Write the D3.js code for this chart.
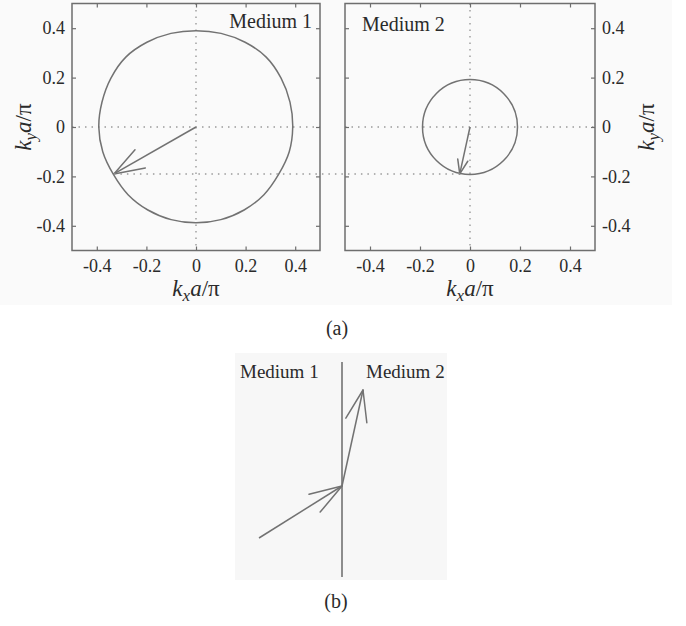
<!DOCTYPE html>
<html>
<head>
<meta charset="utf-8">
<script src="https://cdn.jsdelivr.net/npm/d3@7"></script>
<style>
  body { margin: 0; background: #fff; }
  text { font-family: "Liberation Serif", "Times New Roman", serif; fill: #2a2a2a; }
</style>
</head>
<body>
<div id="chart"></div>
<script>
// ---------- data ----------
const tickValues = [-0.4, -0.2, 0, 0.2, 0.4];
const kDomain = [-0.5, 0.5];

// equifrequency contour of medium 1 (kx a/pi, ky a/pi)
const efcMedium1 = [
  [0.39, 0], [0.379, 0.101], [0.343, 0.198], [0.283, 0.283], [0.198, 0.343], [0.101, 0.379],
  [0, 0.39], [-0.101, 0.379], [-0.198, 0.343], [-0.283, 0.283], [-0.343, 0.198], [-0.379, 0.101],
  [-0.392, 0], [-0.376, -0.1], [-0.333, -0.192], [-0.274, -0.274], [-0.194, -0.336],
  [-0.1, -0.375], [0, -0.388], [0.1, -0.375], [0.194, -0.336], [0.274, -0.274],
  [0.333, -0.192], [0.376, -0.1]
];
// medium 2 contour is a circle
const efcMedium2Radius = 0.19;

// wave vectors drawn in (a)
const kVector1 = [[0, 0], [-0.331, -0.19]];
const kVector2 = [[0, 0], [-0.041, -0.19]];
const kyConserved = -0.19;

// ray diagram (b), arbitrary units, interface at x = 0
const interfaceLine = [[0, -0.91], [0, 1.24]];
const incidentRay = [[-0.83, -0.52], [0, 0]];
const refractedRay = [[0, 0], [0.21, 0.96]];

const panelLabels = ["Medium 1", "Medium 2"];

// ---------- layout ----------
const width = 686, height = 626;
const svg = d3.select("#chart").append("svg")
  .attr("width", width).attr("height", height);

const frameColor = "#6e6e6e";
const lineColor = "#727272";
const dotColor = "#9a9a9a";

// light page background of the scanned figure
svg.append("rect").attr("x", 0).attr("y", 0).attr("width", 672).attr("height", 305).attr("fill", "#fafafa");
svg.append("rect").attr("x", 235).attr("y", 353).attr("width", 212).attr("height", 227).attr("fill", "#f7f7f7");

const yScale = d3.scaleLinear().domain(kDomain).range([250.5, 3.5]);
const xScale1 = d3.scaleLinear().domain(kDomain).range([72, 320]);
const xScale2 = d3.scaleLinear().domain(kDomain).range([345, 595]);

function drawArrow(g, x1, y1, x2, y2, headLen, headAngle, color) {
  g.append("line").attr("x1", x1).attr("y1", y1).attr("x2", x2).attr("y2", y2)
    .attr("stroke", color).attr("stroke-width", 1.5);
  const back = Math.atan2(y1 - y2, x1 - x2);
  [-1, 1].forEach(s => {
    const a = back + s * headAngle * Math.PI / 180;
    g.append("line")
      .attr("x1", x2).attr("y1", y2)
      .attr("x2", x2 + headLen * Math.cos(a)).attr("y2", y2 + headLen * Math.sin(a))
      .attr("stroke", color).attr("stroke-width", 1.5).attr("stroke-linecap", "round");
  });
}

function kTitle(sel, sub) {
  sel.attr("font-size", 23).attr("font-style", "italic");
  sel.append("tspan").text("k");
  sel.append("tspan").attr("font-size", 17).attr("dy", 5).text(sub);
  sel.append("tspan").attr("dy", -5).text("a");
  sel.append("tspan").attr("font-style", "normal").text("/π");
}

function drawPanel(xScale, side, label) {
  const g = svg.append("g");
  const [x0, x1] = xScale.range();
  const [y1, y0] = yScale.range();

  // dotted zero lines
  g.append("line").attr("x1", x0).attr("x2", x1).attr("y1", yScale(0)).attr("y2", yScale(0))
    .attr("stroke", dotColor).attr("stroke-width", 1.4).attr("stroke-dasharray", "1.5,5");
  g.append("line").attr("x1", xScale(0)).attr("x2", xScale(0)).attr("y1", y0).attr("y2", y1)
    .attr("stroke", dotColor).attr("stroke-width", 1.4).attr("stroke-dasharray", "1.5,5");

  // inward ticks on all four sides
  const tl = 4;
  const fmt = d => d === 0 ? "0" : d3.format(".1f")(d).replace("−", "-");
  const bottomAxis = d3.axisBottom(xScale).tickValues(tickValues).tickSize(-tl).tickFormat(fmt);
  const topAxis = d3.axisTop(xScale).tickValues(tickValues).tickSize(-tl).tickFormat("");
  const leftAxis = d3.axisLeft(yScale).tickValues(tickValues).tickSize(-tl).tickFormat(side === "left" ? fmt : "");
  const rightAxis = d3.axisRight(yScale).tickValues(tickValues).tickSize(-tl).tickFormat(side === "right" ? fmt : "");

  const axes = [
    g.append("g").attr("transform", `translate(0,${y1})`).call(bottomAxis),
    g.append("g").attr("transform", `translate(0,${y0})`).call(topAxis),
    g.append("g").attr("transform", `translate(${x0},0)`).call(leftAxis),
    g.append("g").attr("transform", `translate(${x1},0)`).call(rightAxis)
  ];
  axes.forEach(a => {
    a.attr("font-family", null);
    a.select(".domain").remove();
    a.selectAll(".tick line").attr("stroke", frameColor).attr("stroke-width", 1.2);
    a.selectAll(".tick text").attr("font-size", 18).attr("fill", "#2a2a2a");
  });
  axes[0].selectAll(".tick text").attr("y", 9).attr("dy", "0.71em");
  axes[2].selectAll(".tick text").attr("x", -7);
  axes[3].selectAll(".tick text").attr("x", 7);

  // frame
  g.append("rect").attr("x", x0).attr("y", y0).attr("width", x1 - x0).attr("height", y1 - y0)
    .attr("fill", "none").attr("stroke", frameColor).attr("stroke-width", 1.5);

  // axis titles
  g.append("text").attr("x", xScale(0)).attr("y", 296).attr("text-anchor", "middle").call(kTitle, "x");
  const tx = side === "left" ? 31 : 654;
  g.append("text").attr("transform", `translate(${tx},${yScale(0)}) rotate(-90)`)
    .attr("text-anchor", "middle").call(kTitle, "y");

  // medium label
  g.append("text")
    .attr("x", side === "left" ? x1 - 8 : x0 + 17)
    .attr("y", side === "left" ? 28 : 31)
    .attr("text-anchor", side === "left" ? "end" : "start")
    .attr("font-size", 20).text(label);
  return g;
}

const g1 = drawPanel(xScale1, "left", panelLabels[0]);
const g2 = drawPanel(xScale2, "right", panelLabels[1]);

// conserved ky line crossing both panels
svg.append("line")
  .attr("x1", xScale1(kVector1[1][0])).attr("y1", yScale(kyConserved))
  .attr("x2", xScale2(kVector2[1][0])).attr("y2", yScale(kyConserved))
  .attr("stroke", dotColor).attr("stroke-width", 1.4).attr("stroke-dasharray", "1.5,5");

// contours
const contour = d3.line().x(d => xScale1(d[0])).y(d => yScale(d[1])).curve(d3.curveCatmullRomClosed.alpha(0.5));
g1.append("path").attr("d", contour(efcMedium1))
  .attr("fill", "none").attr("stroke", lineColor).attr("stroke-width", 1.5);
g2.append("circle").attr("cx", xScale2(0)).attr("cy", yScale(0))
  .attr("r", xScale2(efcMedium2Radius) - xScale2(0))
  .attr("fill", "none").attr("stroke", lineColor).attr("stroke-width", 1.5);

// wave vectors
drawArrow(g1, xScale1(kVector1[0][0]), yScale(kVector1[0][1]), xScale1(kVector1[1][0]), yScale(kVector1[1][1]), 32, 19, lineColor);
drawArrow(g2, xScale2(kVector2[0][0]), yScale(kVector2[0][1]), xScale2(kVector2[1][0]), yScale(kVector2[1][1]), 15, 20, lineColor);

svg.append("text").attr("x", 337).attr("y", 335).attr("text-anchor", "middle").attr("font-size", 20).text("(a)");

// ---------- (b) ray diagram ----------
const bx = d3.scaleLinear().domain([-1, 1]).range([242, 442]);
const by = d3.scaleLinear().domain([-1, 1]).range([586, 386]);
const gb = svg.append("g");
gb.append("line")
  .attr("x1", bx(interfaceLine[0][0])).attr("y1", by(interfaceLine[0][1]))
  .attr("x2", bx(interfaceLine[1][0])).attr("y2", by(interfaceLine[1][1]))
  .attr("stroke", lineColor).attr("stroke-width", 1.6);
drawArrow(gb, bx(incidentRay[0][0]), by(incidentRay[0][1]), bx(incidentRay[1][0]), by(incidentRay[1][1]), 34, 18, lineColor);
drawArrow(gb, bx(refractedRay[0][0]), by(refractedRay[0][1]), bx(refractedRay[1][0]), by(refractedRay[1][1]), 33, 19, lineColor);

gb.append("text").attr("x", 240).attr("y", 378).attr("font-size", 19).text(panelLabels[0]);
gb.append("text").attr("x", 366).attr("y", 378).attr("font-size", 19).text(panelLabels[1]);

svg.append("text").attr("x", 336).attr("y", 608).attr("text-anchor", "middle").attr("font-size", 20).text("(b)");
</script>
</body>
</html>
